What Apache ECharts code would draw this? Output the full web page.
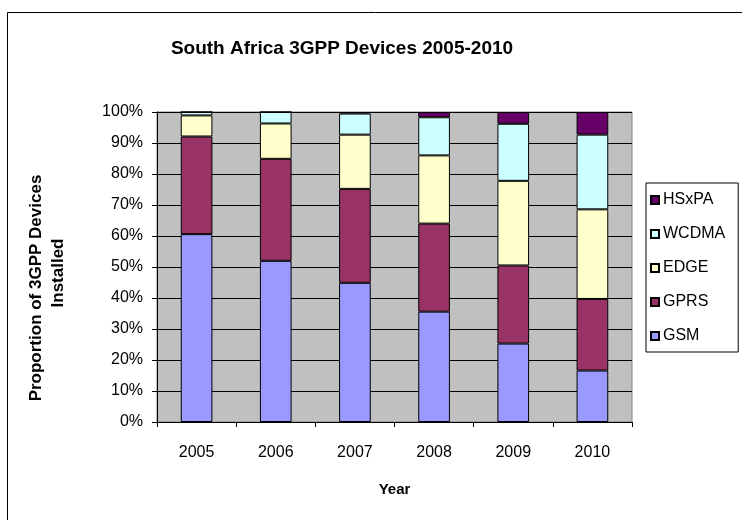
<!DOCTYPE html>
<html>
<head>
<meta charset="utf-8">
<script src="https://cdn.jsdelivr.net/npm/echarts@6/dist/echarts.min.js"></script>
<style>
  html, body { margin: 0; padding: 0; background: #fff; }
  #chart { width: 742px; height: 520px; }
</style>
</head>
<body>
<div id="chart"></div>
<script>
// Share of installed 3GPP devices by technology, percent of total per year
const years = ['2005', '2006', '2007', '2008', '2009', '2010'];
const gsm   = [60.6, 52.0, 44.9, 35.6, 25.3, 16.6];
const gprs  = [31.5, 32.9, 30.3, 28.4, 25.2, 23.1];
const edge  = [6.8, 11.4, 17.5, 22.0, 27.3, 28.9];
const wcdma = [1.1, 3.7, 6.8, 12.3, 18.4, 24.1];
const hsxpa = [0.0, 0.0, 0.5, 1.7, 3.8, 7.3];

const seriesNames = ['GSM', 'GPRS', 'EDGE', 'WCDMA', 'HSxPA'];
const seriesData = [gsm, gprs, edge, wcdma, hsxpa];
const seriesColors = ['#9999FF', '#993366', '#FFFFCC', '#CCFFFF', '#660066'];
const legendOrder = ['HSxPA', 'WCDMA', 'EDGE', 'GPRS', 'GSM'];
const yTicks = [0, 10, 20, 30, 40, 50, 60, 70, 80, 90, 100];

const FONT = 'Liberation Sans, Arial, sans-serif';

const chart = echarts.init(document.getElementById('chart'), null, { renderer: 'canvas' });

const option = {
  animation: false,
  backgroundColor: '#ffffff',
  textStyle: { fontFamily: FONT, color: '#000' },
  title: {
    text: 'South Africa 3GPP Devices 2005-2010',
    left: 337,
    top: 34,
    textAlign: 'center',
    textStyle: { fontFamily: FONT, fontSize: 19, fontWeight: 'bold', color: '#000' }
  },
  legend: {
    orient: 'vertical',
    left: 646,
    top: 183,
    padding: [9, 13, 8, 4],
    itemGap: 18,
    itemWidth: 8,
    itemHeight: 8,
    borderColor: '#000',
    borderWidth: 1,
    icon: 'rect',
    data: legendOrder,
    textStyle: { fontFamily: FONT, fontSize: 16, color: '#000', padding: [0, 0, 0, -1] }
  },
  grid: {
    left: 157,
    right: 110,
    top: 112,
    bottom: 98,
    show: true,
    backgroundColor: '#C0C0C0',
    borderColor: '#808080',
    borderWidth: 1,
    containLabel: false
  },
  xAxis: {
    type: 'category',
    data: years,
    name: 'Year',
    nameLocation: 'middle',
    nameGap: 60,
    nameTextStyle: { fontFamily: FONT, fontSize: 15, fontWeight: 'bold', color: '#000' },
    axisLine: { show: true, lineStyle: { color: '#000', width: 1 } },
    axisTick: { show: true, length: 5, lineStyle: { color: '#000' } },
    axisLabel: { fontFamily: FONT, fontSize: 16, color: '#000', margin: 23 },
    splitLine: { show: false }
  },
  yAxis: {
    type: 'value',
    min: 0,
    max: 100,
    interval: 10,
    axisLine: { show: true, lineStyle: { color: '#000', width: 1 } },
    axisTick: { show: true, length: 5, lineStyle: { color: '#000' } },
    axisLabel: {
      fontFamily: FONT, fontSize: 16, color: '#000', margin: 14,
      formatter: function (v) { return yTicks.indexOf(v) >= 0 ? v + '%' : ''; }
    },
    splitLine: { show: true, lineStyle: { color: '#000', width: 1 } }
  },
  series: seriesNames.map(function (name, i) {
    return {
      name: name,
      type: 'bar',
      stack: 'share',
      barWidth: '40%',
      data: seriesData[i],
      itemStyle: { color: seriesColors[i], borderColor: '#000', borderWidth: 1 }
    };
  }),
  graphic: [
    {
      type: 'rect',
      shape: { x: 7.5, y: 12.5, width: 800, height: 600 },
      style: { fill: null, stroke: '#000', lineWidth: 1 },
      silent: true,
      z: 100
    },
    {
      type: 'text',
      x: 36,
      y: 288,
      rotation: Math.PI / 2,
      style: {
        text: 'Proportion of 3GPP Devices',
        fill: '#000',
        font: 'bold 17px ' + FONT,
        textAlign: 'center',
        textVerticalAlign: 'middle'
      }
    },
    {
      type: 'text',
      x: 58,
      y: 273,
      rotation: Math.PI / 2,
      style: {
        text: 'Installed',
        fill: '#000',
        font: 'bold 17px ' + FONT,
        textAlign: 'center',
        textVerticalAlign: 'middle'
      }
    }
  ]
};

chart.setOption(option);
</script>
</body>
</html>
